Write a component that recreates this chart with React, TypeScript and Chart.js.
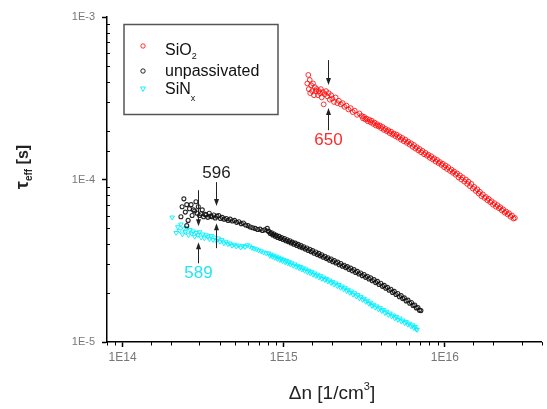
import React, { useEffect, useRef } from "react";
import { Chart, registerables } from "chart.js";

Chart.register(...registerables);

// ---- axes ----
const xMin = 8e13;
const xMax = 4e16;
const yMin = 1e-5;
const yMax = 1e-3;
const xTickValues = [1e14, 1e15, 1e16];
const xTickLabels = ["1E14", "1E15", "1E16"];
const yTickValues = [1e-5, 1e-4, 1e-3];
const yTickLabels = ["1E-5", "1E-4", "1E-3"];

// ---- SiO2 series ----
const sio2N = [
  1.40e15, 1.42e15, 1.43e15, 1.45e15, 1.46e15, 1.48e15, 1.50e15, 1.52e15, 1.54e15, 1.56e15, 1.58e15, 1.60e15,
  1.63e15, 1.65e15, 1.68e15, 1.70e15, 1.72e15, 1.75e15, 1.77e15, 1.80e15, 1.83e15, 1.86e15, 1.90e15, 1.93e15, 1.97e15, 2.00e15,
  2.05e15, 2.10e15, 2.15e15, 2.20e15, 2.26e15, 2.32e15, 2.38e15, 2.45e15, 2.52e15, 2.60e15, 2.68e15, 2.76e15, 2.85e15, 2.95e15,
  3.05e15, 3.10e15, 3.15e15, 3.21e15, 3.27e15, 3.33e15, 3.40e15, 3.46e15, 3.52e15, 3.59e15, 3.66e15, 3.73e15, 3.80e15, 3.87e15,
  3.95e15, 4.02e15, 4.10e15, 4.18e15, 4.27e15, 4.36e15, 4.45e15, 4.54e15, 4.63e15, 4.72e15, 4.82e15, 4.92e15, 5.02e15, 5.12e15,
  5.23e15, 5.34e15, 5.45e15, 5.56e15, 5.68e15, 5.80e15, 5.92e15, 6.04e15, 6.17e15, 6.30e15, 6.43e15, 6.56e15, 6.70e15, 6.84e15,
  6.98e15, 7.12e15, 7.27e15, 7.42e15, 7.58e15, 7.74e15, 7.90e15, 8.06e15, 8.23e15, 8.40e15, 8.58e15, 8.76e15, 8.94e15, 9.13e15,
  9.32e15, 9.51e15, 9.71e15, 9.90e15, 1.01e16, 1.03e16, 1.05e16, 1.075e16, 1.10e16, 1.12e16, 1.14e16, 1.165e16, 1.19e16, 1.215e16,
  1.24e16, 1.265e16, 1.29e16, 1.32e16, 1.35e16, 1.375e16, 1.40e16, 1.43e16, 1.46e16, 1.49e16, 1.52e16, 1.555e16, 1.59e16, 1.62e16,
  1.65e16, 1.685e16, 1.72e16, 1.76e16, 1.80e16, 1.835e16, 1.87e16, 1.91e16, 1.95e16, 1.99e16, 2.03e16, 2.075e16, 2.12e16, 2.165e16,
  2.21e16, 2.255e16, 2.30e16, 2.35e16, 2.40e16, 2.45e16, 2.50e16, 2.555e16, 2.61e16, 2.665e16, 2.72e16,
];
const sio2Tau = [
  3.9e-4, 4.4e-4, 3.6e-4, 4.1e-4, 3.4e-4, 3.8e-4, 3.5e-4, 3.9e-4, 3.3e-4, 3.7e-4, 3.5e-4, 3.6e-4,
  3.3e-4, 3.5e-4, 3.4e-4, 3.6e-4, 3.2e-4, 3.45e-4, 2.9e-4, 3.35e-4, 3.5e-4, 3.25e-4, 3.4e-4, 3.1e-4, 3.3e-4, 3.15e-4,
  3.0e-4, 3.2e-4, 2.95e-4, 3.05e-4, 2.9e-4, 2.95e-4, 2.8e-4, 2.85e-4, 2.7e-4, 2.75e-4, 2.6e-4, 2.65e-4, 2.5e-4, 2.55e-4,
  2.46e-4, 2.38e-4, 2.43e-4, 2.34e-4, 2.37e-4, 2.28e-4, 2.33e-4, 2.25e-4, 2.30e-4, 2.20e-4, 2.24e-4, 2.15e-4, 2.19e-4, 2.12e-4,
  2.15e-4, 2.07e-4, 2.11e-4, 2.02e-4, 2.05e-4, 1.98e-4, 2.01e-4, 1.93e-4, 1.97e-4, 1.89e-4, 1.92e-4, 1.85e-4, 1.89e-4, 1.81e-4,
  1.84e-4, 1.76e-4, 1.80e-4, 1.72e-4, 1.76e-4, 1.68e-4, 1.71e-4, 1.64e-4, 1.67e-4, 1.59e-4, 1.63e-4, 1.55e-4, 1.58e-4, 1.51e-4,
  1.54e-4, 1.47e-4, 1.50e-4, 1.43e-4, 1.46e-4, 1.40e-4, 1.42e-4, 1.36e-4, 1.39e-4, 1.33e-4, 1.35e-4, 1.29e-4, 1.32e-4, 1.26e-4,
  1.28e-4, 1.23e-4, 1.25e-4, 1.19e-4, 1.22e-4, 1.16e-4, 1.19e-4, 1.13e-4, 1.15e-4, 1.10e-4, 1.12e-4, 1.07e-4, 1.09e-4, 1.03e-4,
  1.06e-4, 1.00e-4, 1.03e-4, 9.7e-5, 1.00e-4, 9.4e-5, 9.7e-5, 9.1e-5, 9.4e-5, 8.8e-5, 9.0e-5, 8.5e-5, 8.7e-5, 8.2e-5,
  8.4e-5, 7.9e-5, 8.1e-5, 7.7e-5, 7.8e-5, 7.45e-5, 7.6e-5, 7.25e-5, 7.35e-5, 7.0e-5, 7.15e-5, 6.8e-5, 6.95e-5, 6.65e-5,
  6.75e-5, 6.45e-5, 6.55e-5, 6.25e-5, 6.35e-5, 6.1e-5, 6.2e-5, 5.9e-5, 6.0e-5, 5.75e-5, 5.8e-5,
];

// ---- unpassivated series ----
const unpN = [
  2.30e14, 2.34e14, 2.40e14, 2.45e14, 2.50e14, 2.50e14, 2.55e14, 2.60e14, 2.66e14, 2.70e14,
  2.75e14, 2.80e14, 2.85e14, 2.90e14, 2.95e14, 3.00e14, 3.06e14, 3.12e14, 3.18e14, 3.25e14,
  3.30e14, 3.38e14, 3.45e14, 3.52e14, 3.60e14, 3.68e14, 3.76e14, 3.85e14, 3.95e14, 4.05e14,
  4.15e14, 4.27e14, 4.40e14, 4.52e14, 4.65e14, 4.80e14, 4.95e14, 5.10e14, 5.27e14, 5.45e14,
  5.62e14, 5.80e14, 6.00e14, 6.20e14, 6.42e14, 6.65e14, 6.88e14, 7.12e14, 7.37e14, 7.63e14,
  7.90e14, 8.00e14, 8.10e14, 8.25e14, 8.40e14, 8.55e14, 8.70e14, 8.85e14, 9.00e14, 9.17e14,
  9.35e14, 9.52e14, 9.70e14, 9.90e14, 1.01e15, 1.03e15, 1.05e15, 1.07e15, 1.09e15, 1.11e15,
  1.13e15, 1.155e15, 1.18e15, 1.205e15, 1.23e15, 1.255e15, 1.28e15, 1.305e15, 1.33e15, 1.36e15,
  1.39e15, 1.42e15, 1.45e15, 1.48e15, 1.51e15, 1.545e15, 1.58e15, 1.615e15, 1.65e15, 1.685e15,
  1.72e15, 1.76e15, 1.80e15, 1.84e15, 1.88e15, 1.925e15, 1.97e15, 2.015e15, 2.06e15, 2.11e15,
  2.16e15, 2.21e15, 2.26e15, 2.315e15, 2.37e15, 2.425e15, 2.48e15, 2.54e15, 2.60e15, 2.665e15,
  2.73e15, 2.795e15, 2.86e15, 2.93e15, 3.00e15, 3.075e15, 3.15e15, 3.225e15, 3.30e15, 3.38e15,
  3.46e15, 3.545e15, 3.63e15, 3.72e15, 3.81e15, 3.905e15, 4.00e15, 4.10e15, 4.20e15, 4.30e15,
  4.40e15, 4.51e15, 4.62e15, 4.735e15, 4.85e15, 4.975e15, 5.10e15, 5.225e15, 5.35e15, 5.475e15,
  5.60e15, 5.75e15, 5.90e15, 6.05e15, 6.20e15, 6.35e15, 6.50e15, 6.65e15, 6.80e15, 6.95e15,
  7.10e15,
];
const unpTau = [
  5.9e-5, 6.8e-5, 7.6e-5, 6.3e-5, 7.0e-5, 5.2e-5, 5.6e-5, 6.6e-5, 7.0e-5, 6.0e-5,
  6.5e-5, 6.4e-5, 7.3e-5, 6.2e-5, 6.8e-5, 6.0e-5, 6.15e-5, 6.5e-5, 5.9e-5, 6.1e-5,
  6.05e-5, 5.85e-5, 6.2e-5, 5.95e-5, 5.9e-5, 6.05e-5, 5.8e-5, 5.95e-5, 6.0e-5, 5.75e-5,
  5.85e-5, 5.7e-5, 5.75e-5, 5.6e-5, 5.7e-5, 5.55e-5, 5.6e-5, 5.45e-5, 5.5e-5, 5.35e-5,
  5.4e-5, 5.25e-5, 5.2e-5, 5.1e-5, 5.05e-5, 5.0e-5, 4.92e-5, 4.95e-5, 4.85e-5, 4.9e-5,
  5.00e-5, 4.82e-5, 4.78e-5, 4.66e-5, 4.70e-5, 4.56e-5, 4.62e-5, 4.48e-5, 4.54e-5, 4.40e-5,
  4.47e-5, 4.34e-5, 4.40e-5, 4.27e-5, 4.33e-5, 4.20e-5, 4.26e-5, 4.14e-5, 4.20e-5, 4.07e-5,
  4.12e-5, 4.00e-5, 4.06e-5, 3.93e-5, 3.99e-5, 3.86e-5, 3.92e-5, 3.80e-5, 3.86e-5, 3.73e-5,
  3.79e-5, 3.66e-5, 3.72e-5, 3.59e-5, 3.65e-5, 3.52e-5, 3.58e-5, 3.45e-5, 3.51e-5, 3.39e-5,
  3.44e-5, 3.32e-5, 3.37e-5, 3.26e-5, 3.30e-5, 3.19e-5, 3.24e-5, 3.12e-5, 3.17e-5, 3.06e-5,
  3.10e-5, 2.99e-5, 3.04e-5, 2.93e-5, 2.97e-5, 2.87e-5, 2.91e-5, 2.80e-5, 2.85e-5, 2.74e-5,
  2.79e-5, 2.68e-5, 2.72e-5, 2.62e-5, 2.66e-5, 2.56e-5, 2.60e-5, 2.50e-5, 2.54e-5, 2.44e-5,
  2.48e-5, 2.38e-5, 2.42e-5, 2.32e-5, 2.36e-5, 2.26e-5, 2.30e-5, 2.20e-5, 2.23e-5, 2.14e-5,
  2.17e-5, 2.08e-5, 2.11e-5, 2.02e-5, 2.05e-5, 1.96e-5, 1.99e-5, 1.90e-5, 1.93e-5, 1.85e-5,
  1.87e-5, 1.79e-5, 1.81e-5, 1.73e-5, 1.75e-5, 1.68e-5, 1.69e-5, 1.62e-5, 1.63e-5, 1.57e-5,
  1.56e-5,
];

// ---- SiNx series ----
const sinN = [
  2.03e14, 2.15e14, 2.20e14, 2.25e14, 2.30e14, 2.35e14, 2.40e14, 2.45e14, 2.50e14, 2.56e14,
  2.62e14, 2.68e14, 2.74e14, 2.80e14, 2.86e14, 2.93e14, 3.00e14, 3.07e14, 3.14e14, 3.22e14,
  3.30e14, 3.38e14, 3.46e14, 3.55e14, 3.64e14, 3.73e14, 3.82e14, 3.92e14, 4.02e14, 4.13e14,
  4.25e14, 4.37e14, 4.50e14, 4.63e14, 4.77e14, 4.92e14, 5.07e14, 5.23e14, 5.40e14, 5.58e14,
  5.76e14, 5.95e14, 6.15e14, 6.35e14, 6.56e14, 6.78e14, 7.00e14, 7.25e14, 7.50e14, 7.77e14,
  8.05e14, 8.20e14, 8.35e14, 8.50e14, 8.65e14, 8.80e14, 8.97e14, 9.13e14, 9.30e14, 9.47e14,
  9.65e14, 9.82e14, 1.00e15, 1.02e15, 1.04e15, 1.06e15, 1.08e15, 1.10e15, 1.12e15, 1.145e15,
  1.17e15, 1.195e15, 1.22e15, 1.245e15, 1.27e15, 1.295e15, 1.32e15, 1.345e15, 1.37e15, 1.40e15,
  1.43e15, 1.46e15, 1.49e15, 1.52e15, 1.55e15, 1.585e15, 1.62e15, 1.655e15, 1.69e15, 1.725e15,
  1.76e15, 1.80e15, 1.84e15, 1.88e15, 1.92e15, 1.965e15, 2.01e15, 2.055e15, 2.10e15, 2.15e15,
  2.20e15, 2.25e15, 2.30e15, 2.35e15, 2.40e15, 2.455e15, 2.51e15, 2.57e15, 2.63e15, 2.69e15,
  2.75e15, 2.815e15, 2.88e15, 2.945e15, 3.01e15, 3.08e15, 3.15e15, 3.225e15, 3.30e15, 3.375e15,
  3.45e15, 3.53e15, 3.61e15, 3.695e15, 3.78e15, 3.87e15, 3.96e15, 4.055e15, 4.15e15, 4.25e15,
  4.35e15, 4.455e15, 4.56e15, 4.67e15, 4.78e15, 4.89e15, 5.00e15, 5.12e15, 5.24e15, 5.365e15,
  5.49e15, 5.62e15, 5.75e15, 5.885e15, 6.02e15, 6.16e15, 6.30e15, 6.425e15, 6.55e15, 6.64e15,
  6.73e15,
];
const sinTau = [
  5.85e-5, 4.7e-5, 5.1e-5, 4.85e-5, 5.3e-5, 4.6e-5, 5.0e-5, 4.75e-5, 5.05e-5, 4.55e-5,
  4.9e-5, 4.65e-5, 4.8e-5, 4.45e-5, 4.7e-5, 4.55e-5, 4.75e-5, 4.4e-5, 4.6e-5, 4.35e-5,
  4.55e-5, 4.45e-5, 4.3e-5, 4.5e-5, 4.25e-5, 4.4e-5, 4.2e-5, 4.35e-5, 4.15e-5, 4.25e-5,
  4.05e-5, 4.15e-5, 4.0e-5, 4.05e-5, 3.92e-5, 3.98e-5, 3.88e-5, 3.93e-5, 3.82e-5, 3.9e-5,
  3.85e-5, 3.95e-5, 3.88e-5, 3.8e-5, 3.76e-5, 3.72e-5, 3.66e-5, 3.62e-5, 3.56e-5, 3.52e-5,
  3.52e-5, 3.40e-5, 3.46e-5, 3.35e-5, 3.41e-5, 3.30e-5, 3.36e-5, 3.25e-5, 3.31e-5, 3.20e-5,
  3.26e-5, 3.15e-5, 3.21e-5, 3.10e-5, 3.16e-5, 3.05e-5, 3.11e-5, 3.00e-5, 3.06e-5, 2.95e-5,
  3.01e-5, 2.90e-5, 2.95e-5, 2.85e-5, 2.90e-5, 2.80e-5, 2.85e-5, 2.75e-5, 2.80e-5, 2.70e-5,
  2.75e-5, 2.65e-5, 2.70e-5, 2.60e-5, 2.65e-5, 2.55e-5, 2.60e-5, 2.50e-5, 2.55e-5, 2.45e-5,
  2.50e-5, 2.41e-5, 2.45e-5, 2.36e-5, 2.40e-5, 2.31e-5, 2.35e-5, 2.26e-5, 2.30e-5, 2.21e-5,
  2.25e-5, 2.16e-5, 2.20e-5, 2.11e-5, 2.15e-5, 2.06e-5, 2.10e-5, 2.01e-5, 2.05e-5, 1.96e-5,
  2.00e-5, 1.91e-5, 1.95e-5, 1.86e-5, 1.90e-5, 1.82e-5, 1.85e-5, 1.77e-5, 1.80e-5, 1.72e-5,
  1.75e-5, 1.67e-5, 1.70e-5, 1.63e-5, 1.66e-5, 1.59e-5, 1.62e-5, 1.55e-5, 1.58e-5, 1.51e-5,
  1.54e-5, 1.47e-5, 1.50e-5, 1.44e-5, 1.46e-5, 1.40e-5, 1.43e-5, 1.37e-5, 1.40e-5, 1.34e-5,
  1.36e-5, 1.31e-5, 1.33e-5, 1.28e-5, 1.30e-5, 1.25e-5, 1.27e-5, 1.22e-5, 1.24e-5, 1.20e-5,
  1.19e-5,
];

// ---- annotations (arrow pairs with labels) ----
const annLabels = ["650", "596", "589"];
const annColors = ["#ff2a2a", "#222222", "#22e6f2"];
const annX = [1.89e15, 3.79e14, 2.93e14];
const annTopFrom = [5.43e-4, 9.64e-5, 8.59e-5];
const annTopTo = [3.81e-4, 6.86e-5, 5.16e-5];
const annBotFrom = [2.01e-4, 3.78e-5, 3.05e-5];
const annBotTo = [2.75e-4, 5.38e-5, 4.11e-5];
const annLabelY = [1.75e-4, 1.09e-4, 2.65e-5];

const FONT = "'Liberation Sans', Arial, sans-serif";

function isDecade(v: number) {
  const l = Math.log10(v);
  return Math.abs(l - Math.round(l)) < 1e-6;
}
function tickLabel(v: number, values: number[], labels: string[]) {
  for (let i = 0; i < values.length; i++) {
    if (Math.abs(Math.log10(v) - Math.log10(values[i])) < 1e-6) return labels[i];
  }
  return "";
}

type Part = { t: string; font: string; dy?: number };
function richWidth(ctx: CanvasRenderingContext2D, parts: Part[]) {
  let w = 0;
  for (const p of parts) {
    ctx.font = p.font;
    w += ctx.measureText(p.t).width;
  }
  return w;
}
function drawRich(ctx: CanvasRenderingContext2D, parts: Part[], x: number, y: number) {
  let cx = x;
  for (const p of parts) {
    ctx.font = p.font;
    ctx.fillText(p.t, cx, y + (p.dy || 0));
    cx += ctx.measureText(p.t).width;
  }
}

function drawArrow(ctx: CanvasRenderingContext2D, x: number, y1: number, y2: number) {
  const dir = y2 > y1 ? 1 : -1;
  ctx.beginPath();
  ctx.moveTo(x, y1);
  ctx.lineTo(x, y2 - dir * 5);
  ctx.stroke();
  ctx.beginPath();
  ctx.moveTo(x, y2);
  ctx.lineTo(x - 2.5, y2 - dir * 7);
  ctx.lineTo(x + 2.5, y2 - dir * 7);
  ctx.closePath();
  ctx.fill();
}

const overlayPlugin = {
  id: "overlay",
  afterDraw(chart: any) {
    const { ctx, chartArea } = chart;
    const xs = chart.scales.x;
    const ys = chart.scales.y;
    ctx.save();

    // minor tick marks
    ctx.strokeStyle = "#000";
    ctx.lineWidth = 1;
    for (const t of xs.ticks) {
      if (isDecade(t.value)) continue;
      const px = Math.round(xs.getPixelForValue(t.value)) + 0.5;
      ctx.beginPath();
      ctx.moveTo(px, chartArea.bottom);
      ctx.lineTo(px, chartArea.bottom + 3.5);
      ctx.stroke();
    }
    for (const t of ys.ticks) {
      if (isDecade(t.value)) continue;
      const py = Math.round(ys.getPixelForValue(t.value)) + 0.5;
      ctx.beginPath();
      ctx.moveTo(chartArea.left, py);
      ctx.lineTo(chartArea.left + 3, py);
      ctx.stroke();
    }

    // arrows & labels
    for (let i = 0; i < annLabels.length; i++) {
      const px = Math.round(xs.getPixelForValue(annX[i])) + 0.5;
      ctx.strokeStyle = "#222";
      ctx.fillStyle = "#222";
      ctx.lineWidth = 1;
      drawArrow(ctx, px, ys.getPixelForValue(annTopFrom[i]), ys.getPixelForValue(annTopTo[i]));
      drawArrow(ctx, px, ys.getPixelForValue(annBotFrom[i]), ys.getPixelForValue(annBotTo[i]));
      ctx.fillStyle = annColors[i];
      ctx.font = `17px ${FONT}`;
      ctx.textAlign = "center";
      ctx.textBaseline = "middle";
      ctx.fillText(annLabels[i], px, ys.getPixelForValue(annLabelY[i]));
    }

    // legend
    ctx.textAlign = "left";
    ctx.textBaseline = "alphabetic";
    ctx.strokeStyle = "#555";
    ctx.lineWidth = 1.5;
    ctx.strokeRect(124, 24.5, 154, 90);
    const ds = chart.data.datasets;
    const legendY = [46, 71, 89];
    const textY = [55, 76, 94];
    const legendParts: Part[][] = [
      [
        { t: "SiO", font: `16px ${FONT}` },
        { t: "2", font: `9px ${FONT}`, dy: 4 },
      ],
      [{ t: "unpassivated", font: `16px ${FONT}` }],
      [
        { t: "SiN", font: `16px ${FONT}` },
        { t: "x", font: `9px ${FONT}`, dy: 7 },
      ],
    ];
    for (let i = 0; i < 3; i++) {
      const d = ds[i];
      ctx.strokeStyle = d.borderColor;
      ctx.lineWidth = 1;
      const mx = 143;
      const my = legendY[i];
      if (d.pointStyle === "triangle") {
        ctx.beginPath();
        ctx.moveTo(mx - 2.5, my - 2);
        ctx.lineTo(mx + 2.5, my - 2);
        ctx.lineTo(mx, my + 2.5);
        ctx.closePath();
        ctx.stroke();
      } else {
        ctx.beginPath();
        ctx.arc(mx, my, 2.2, 0, Math.PI * 2);
        ctx.stroke();
      }
      ctx.fillStyle = "#111";
      drawRich(ctx, legendParts[i], 165, textY[i]);
    }

    // x axis title
    ctx.fillStyle = "#222";
    const xt: Part[] = [
      { t: "\u0394n [1/cm", font: `19px ${FONT}` },
      { t: "3", font: `11px ${FONT}`, dy: -9 },
      { t: "]", font: `19px ${FONT}` },
    ];
    const xw = richWidth(ctx, xt);
    drawRich(ctx, xt, 332 - xw / 2, 399);

    // y axis title
    ctx.save();
    ctx.translate(28, 167);
    ctx.rotate(-Math.PI / 2);
    const yt: Part[] = [
      { t: "\u03c4", font: `bold 18px ${FONT}` },
      { t: "eff", font: `bold 10px ${FONT}`, dy: 4 },
      { t: " [s]", font: `bold 16px ${FONT}` },
    ];
    const yw = richWidth(ctx, yt);
    drawRich(ctx, yt, -yw / 2, 0);
    ctx.restore();

    ctx.restore();
  },
};

export default function App() {
  const canvasRef = useRef<HTMLCanvasElement | null>(null);

  useEffect(() => {
    document.body.style.margin = "0";
    const canvas = canvasRef.current;
    if (!canvas) return;
    const toPts = (xs: number[], ys: number[]) => xs.map((x, i) => ({ x, y: ys[i] }));
    const tickColor = (c: any) => (c.tick && isDecade(c.tick.value) ? "#000" : "rgba(0,0,0,0)");
    const chart = new Chart(canvas, {
      type: "scatter",
      data: {
        datasets: [
          {
            label: "SiO2",
            data: toPts(sio2N, sio2Tau),
            borderColor: "rgba(255,0,0,0.8)",
            backgroundColor: "rgba(0,0,0,0)",
            pointStyle: "circle",
            pointRadius: 2.4,
            borderWidth: 1,
          },
          {
            label: "unpassivated",
            data: toPts(unpN, unpTau),
            borderColor: "rgba(15,15,15,0.9)",
            backgroundColor: "rgba(0,0,0,0)",
            pointStyle: "circle",
            pointRadius: 2.0,
            borderWidth: 1.1,
          },
          {
            label: "SiNx",
            data: toPts(sinN, sinTau),
            borderColor: "rgba(0,240,255,0.9)",
            backgroundColor: "rgba(0,0,0,0)",
            pointStyle: "triangle",
            rotation: 180,
            pointRadius: 2.6,
            borderWidth: 1,
          },
        ],
      },
      options: {
        animation: false,
        responsive: true,
        maintainAspectRatio: false,
        layout: { padding: { top: 17, left: 0, right: 0, bottom: 0 } },
        plugins: { legend: { display: false }, tooltip: { enabled: false } },
        scales: {
          x: {
            type: "logarithmic",
            min: xMin,
            max: xMax,
            afterFit: (s: any) => {
              s.height = 67;
            },
            border: { display: true, color: "#000", width: 1.5 },
            grid: {
              display: true,
              drawOnChartArea: false,
              drawTicks: true,
              tickLength: 5,
              tickColor,
              tickWidth: 1.5,
            },
            ticks: {
              autoSkip: false,
              maxRotation: 0,
              padding: 3,
              color: "#777",
              font: { family: FONT, size: 12 },
              callback: (v: any) => tickLabel(Number(v), xTickValues, xTickLabels),
            },
          },
          y: {
            type: "logarithmic",
            min: yMin,
            max: yMax,
            afterFit: (s: any) => {
              s.width = 107;
            },
            border: { display: true, color: "#000", width: 1.5 },
            grid: {
              display: true,
              drawOnChartArea: false,
              drawTicks: true,
              tickLength: 5,
              tickColor,
              tickWidth: 1.5,
            },
            ticks: {
              autoSkip: false,
              padding: 7,
              color: "#777",
              font: { family: FONT, size: 11 },
              callback: (v: any) => tickLabel(Number(v), yTickValues, yTickLabels),
            },
          },
        },
      },
      plugins: [overlayPlugin],
    });
    return () => chart.destroy();
  }, []);

  return (
    <div style={{ width: 547, height: 409, position: "relative" }}>
      <canvas ref={canvasRef} />
    </div>
  );
}
